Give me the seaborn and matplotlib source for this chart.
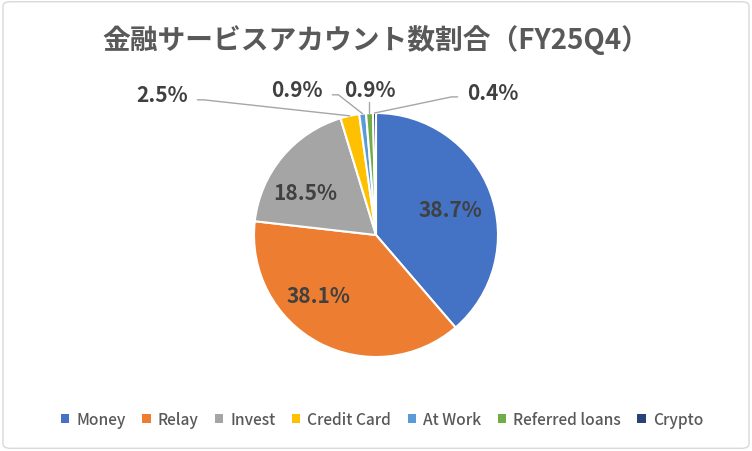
import numpy as np
import matplotlib
matplotlib.use("Agg")
import matplotlib.pyplot as plt
from matplotlib.patches import Patch, FancyBboxPatch
import seaborn as sns

# data
categories = ["Money", "Relay", "Invest", "Credit Card", "At Work", "Referred loans", "Crypto"]
shares = [38.7, 38.1, 18.5, 2.5, 0.9, 0.9, 0.4]
title = "金融サービスアカウント数割合（FY25Q4）"

sns.set_theme(style="white")
plt.rcParams["font.family"] = ["Noto Sans CJK JP", "DejaVu Sans"]

colors = sns.color_palette(["#4472C4", "#ED7D31", "#A5A5A5", "#FFC000",
                            "#5B9BD5", "#70AD47", "#264478"])

fig = plt.figure(figsize=(7.52, 4.52), dpi=100)
fig.patch.set_facecolor("white")

# rounded chart border
fig.patches.append(FancyBboxPatch((0.004, 0.006), 0.992, 0.988,
                                  boxstyle="round,pad=0,rounding_size=0.01",
                                  transform=fig.transFigure, fill=False,
                                  edgecolor="#D9D9D9", linewidth=1.0))

# pie area: centre (376, 236) px, radius 122 px
W, H = 752, 452
cx, cy, r = 376, 236, 122
ax = fig.add_axes([(cx - r) / W, (H - cy - r) / H, 2 * r / W, 2 * r / H])

wedges, _ = ax.pie(shares, colors=colors, startangle=90, counterclock=False,
                   radius=1.0, wedgeprops=dict(edgecolor="white", linewidth=1.5))
ax.set_xlim(-1, 1)
ax.set_ylim(-1, 1)
ax.set_aspect("equal")
ax.axis("off")

# label placement (data units of the pie axes)
inside_pos = {0: (0.607, 0.213), 1: (-0.475, -0.492), 2: (-0.582, 0.352)}
outside_pos = {3: (-1.754, 1.148), 4: (-0.648, 1.189), 5: (-0.049, 1.189), 6: (0.959, 1.172)}
lab_color = "#404040"
lab_size = 15

for i, w in enumerate(wedges):
    txt = f"{shares[i]:.1f}%"
    if i in inside_pos:
        x, y = inside_pos[i]
        ax.text(x, y, txt, ha="center", va="center", fontsize=lab_size,
                fontweight="bold", color=lab_color)
    else:
        x, y = outside_pos[i]
        ax.text(x, y, txt, ha="center", va="center", fontsize=lab_size,
                fontweight="bold", color=lab_color, clip_on=False)
        ang = np.deg2rad((w.theta1 + w.theta2) / 2)
        ex, ey = np.cos(ang), np.sin(ang)
        # leader line: from label side, short elbow, to wedge edge
        half_w = 0.29
        if abs(x - ex) < 0.1:
            pts = [(ex, y - 0.1), (ex, ey)]
        elif x < ex:
            sx = x + half_w
            pts = [(sx, y - 0.04), (sx + 0.05, y - 0.04), (ex, ey)]
        else:
            sx = x - half_w
            pts = [(sx, y - 0.04), (sx - 0.05, y - 0.04), (ex, ey)]
        px, py = zip(*pts)
        ax.plot(px, py, color="#A6A6A6", linewidth=1.0, clip_on=False)

fig.text(0.5, 0.912, title, ha="center", va="center", fontsize=20,
         fontweight="bold", color="#595959")

handles = [Patch(facecolor=c, edgecolor="none") for c in colors]
fig.legend(handles, categories, loc="center", bbox_to_anchor=(0.508, 0.07),
           ncol=7, frameon=False, prop={"size": 11.2, "weight": "medium"},
           labelcolor="#595959", handlelength=0.55, handleheight=0.55,
           handletextpad=0.45, columnspacing=1.05)

fig.savefig("out.png", dpi=100, facecolor="white")
